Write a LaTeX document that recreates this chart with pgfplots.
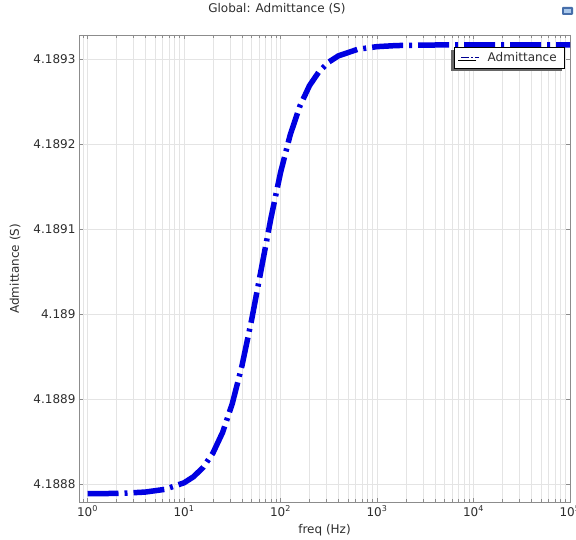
\documentclass[border=0pt]{standalone}
\usepackage{fontspec}
\setmainfont{DejaVu Sans}
\usepackage{pgfplots}
\pgfplotsset{compat=1.18}
\usetikzlibrary{shadows}
\definecolor{curveblue}{RGB}{0,0,225}
\definecolor{gridgray}{RGB}{228,228,228}
\definecolor{axisgray}{RGB}{140,140,140}
\definecolor{txt}{RGB}{45,45,45}
\definecolor{icondark}{RGB}{70,110,170}
\definecolor{iconlight}{RGB}{170,200,235}
\begin{document}
\begin{tikzpicture}
\useasboundingbox (0,0) rectangle (576pt,540pt);
\fill[white] (0,0) rectangle (576pt,540pt);
\begin{axis}[
  at={(79pt,37.5pt)}, anchor=south west,
  scale only axis, width=491pt, height=467.5pt,
  xmode=log, xmin=0.816, xmax=100000,
  ymin=-0.212, ymax=5.286,
  font=\fontsize{12}{14}\selectfont,
  every tick label/.append style={text=txt},
  xtick={1,10,100,1000,10000,100000},
  xticklabels={10\textsuperscript{0},10\textsuperscript{1},10\textsuperscript{2},10\textsuperscript{3},10\textsuperscript{4},10\textsuperscript{5}},
  minor xtick={0.9,2,3,4,5,6,7,8,9,20,30,40,50,60,70,80,90,200,300,400,500,600,700,800,900,2000,3000,4000,5000,6000,7000,8000,9000,20000,30000,40000,50000,60000,70000,80000,90000},
  ytick={0,1,2,3,4,5},
  yticklabels={4.1888,4.1889,4.189,4.1891,4.1892,4.1893},
  tick align=inside,
  major tick length=4pt, minor tick length=3pt,
  every tick/.style={axisgray, line width=0.6pt},
  axis line style={axisgray, line width=0.8pt},
  xmajorgrids, xminorgrids, ymajorgrids,
  major grid style={gridgray, line width=0.6pt},
  minor grid style={gridgray, line width=0.6pt},
  title={Global: Admittance (S)},
  title style={at={(axis description cs:0.403,1.043)}, anchor=center, text=txt},
  xlabel={freq (Hz)},
  xlabel style={at={(axis description cs:0.5,-0.06)}, anchor=center, text=txt},
  ylabel={Admittance (S)},
  ylabel style={at={(axis description cs:-0.13,0.5)}, anchor=center, text=txt},
  legend style={at={(rel axis cs:1,1)}, xshift=-5pt, yshift=-12pt, anchor=north east,
    draw=black, line width=0.6pt, fill=white,
    drop shadow={shadow xshift=-3pt, shadow yshift=-3pt, fill=black!60, opacity=1},
    inner xsep=6pt, inner ysep=3pt, font=\fontsize{12}{14}\selectfont, text=txt},
  legend cell align=left,
]
\addplot[curveblue, line width=5.5pt, dash pattern=on 31pt off 6pt on 3pt off 6pt, forget plot]
coordinates {
(1,-0.1087) (1.585,-0.1067) (2.512,-0.1016) (3.981,-0.0891) (6.310,-0.0577)
(10,0.0194) (12.59,0.0922) (15.85,0.2034) (19.95,0.3700) (25.12,0.6123)
(31.62,0.9500) (39.81,1.3935) (50.12,1.9326) (63.10,2.5300) (79.43,3.1272)
(100,3.6668) (125.9,4.1098) (158.5,4.4477) (199.5,4.6900) (251.2,4.8566)
(316.2,4.9678) (398.1,5.0406) (631.0,5.1177) (1000,5.1490) (1585,5.1617)
(3162,5.1679) (10000,5.1698) (31623,5.1700) (100000,5.1700)
};
\addlegendimage{legend image code/.code={\path (-1pt,0pt) (24pt,0pt); \draw[curveblue!65!black, line width=0.8pt, dash pattern=on 8pt off 2pt on 1.5pt off 2pt] (0pt,0pt) -- (18pt,0pt);}}
\addlegendentry{Admittance}
\node[anchor=center, text=txt] at (axis description cs:-0.071,0.983) {×10\textsuperscript{−9}};
\end{axis}
\fill[rounded corners=1pt, icondark] (562pt,525pt) rectangle (573pt,533pt);
\fill[iconlight] (564pt,527pt) rectangle (571pt,531pt);
\end{tikzpicture}
\end{document}
